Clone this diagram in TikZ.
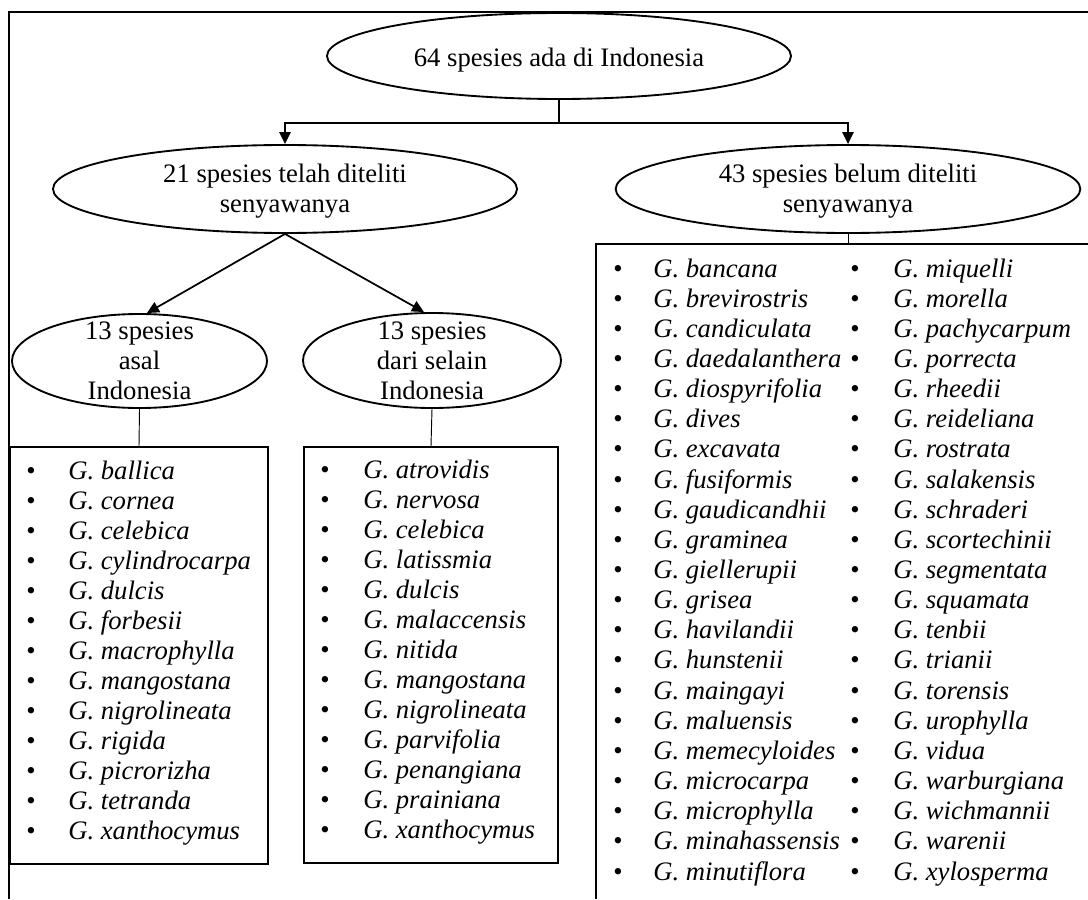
\documentclass[tikz,border=0pt]{standalone}
\usepackage{fontspec}
\setmainfont{Liberation Serif}
\usetikzlibrary{arrows.meta,shapes.geometric}
\begin{document}
\begin{tikzpicture}[x=0.75pt,y=-0.75pt,
  oval/.style={ellipse, draw, line width=1.4pt, inner sep=0pt},
  lbl/.style={align=center, font=\fontsize{20}{22.5}\selectfont, inner sep=0pt},
  listbox/.style={draw, line width=1.6pt, inner sep=0pt},
  item/.style={anchor=base west, inner sep=0pt, font=\fontsize{20}{22.5}\selectfont\itshape},
  dot/.style={anchor=base, inner sep=0pt, font=\fontsize{20}{22.5}\selectfont},
  arr/.style={line width=1.3pt, -{Triangle[length=9pt,width=8.5pt]}},
  stem/.style={line width=0.7pt},
  frame/.style={line width=1pt}]

\fill[white] (0,0) rectangle (1088,899);
\useasboundingbox (0,0) rectangle (1088,899);

% outer frame (top and left sides)
\draw[frame] (1088,12) -| (9,899);

% ellipses
\node[oval, minimum width=348pt, minimum height=64.5pt] (all) at (559,56) {};
\node[lbl] (allT) at (559,60) {64 spesies ada di Indonesia};

\node[oval, minimum width=348pt, minimum height=66pt] (done) at (285,189) {};
\node[lbl] (doneT) at (285,191) {21 spesies telah diteliti\\senyawanya};

\node[oval, minimum width=348.5pt, minimum height=66pt] (todo) at (848,189) {};
\node[lbl] (todoT) at (848,191) {43 spesies belum diteliti\\senyawanya};

\node[oval, minimum width=191.25pt, minimum height=70.5pt] (native) at (139.5,361) {};
\node[lbl] (nativeT) at (139.5,361) {13 spesies\\asal\\Indonesia};

\node[oval, minimum width=193.5pt, minimum height=71.25pt] (foreign) at (432,360.5) {};
\node[lbl] (foreignT) at (432,361) {13 spesies\\dari selain\\Indonesia};

% list boxes
\node[listbox, minimum width=193.5pt, minimum height=312.75pt, anchor=north] (boxA) at (139,446) {};
\node[listbox, minimum width=190.5pt, minimum height=312pt, anchor=north] (boxB) at (431,446) {};
\draw[line width=1.6pt] (1088,244) -| (596,899);
\coordinate (boxC) at (848,244);

% connectors
\coordinate (split) at (559,123);
\draw[line width=1.3pt] (all.south) -- (split);
\draw[arr] (split) -| (done.north);
\draw[arr] (split) -| (todo.north);
\draw[arr] (done.south) -- ([xshift=5.6pt]native.north);
\draw[arr] (done.south) -- ([xshift=-6pt]foreign.north);
\draw[stem] (native.south) -- (boxA.north);
\draw[stem] (foreign.south) -- (boxB.north);
\draw[stem] (todo.south) -- (boxC);

% species lists
\foreach \n [count=\i] in {G. ballica, G. cornea, G. celebica, G. cylindrocarpa,
  G. dulcis, G. forbesii, G. macrophylla, G. mangostana, G. nigrolineata,
  G. rigida, G. picrorizha, G. tetranda, G. xanthocymus} {
  \node[dot] (ad\i) at (31,{479+30*(\i-1)}) {•};
  \node[item] (a\i) at (68,{479+30*(\i-1)}) {\n};
}
\foreach \n [count=\i] in {G. atrovidis, G. nervosa, G. celebica, G. latissmia,
  G. dulcis, G. malaccensis, G. nitida, G. mangostana, G. nigrolineata,
  G. parvifolia, G. penangiana, G. prainiana, G. xanthocymus} {
  \node[dot] (bd\i) at (325,{478+30*(\i-1)}) {•};
  \node[item] (b\i) at (363,{478+30*(\i-1)}) {\n};
}
\foreach \n [count=\i] in {G. bancana, G. brevirostris, G. candiculata,
  G. daedalanthera, G. diospyrifolia, G. dives, G. excavata, G. fusiformis,
  G. gaudicandhii, G. graminea, G. giellerupii, G. grisea, G. havilandii,
  G. hunstenii, G. maingayi, G. maluensis, G. memecyloides, G. microcarpa,
  G. microphylla, G. minahassensis, G. minutiflora} {
  \node[dot] (cd\i) at (618,{277+30.15*(\i-1)}) {•};
  \node[item] (c\i) at (653,{277+30.15*(\i-1)}) {\n};
}
\foreach \n [count=\i] in {G. miquelli, G. morella, G. pachycarpum,
  G. porrecta, G. rheedii, G. reideliana, G. rostrata, G. salakensis,
  G. schraderi, G. scortechinii, G. segmentata, G. squamata, G. tenbii,
  G. trianii, G. torensis, G. urophylla, G. vidua, G. warburgiana,
  G. wichmannii, G. warenii, G. xylosperma} {
  \node[dot] (dd\i) at (855,{277+30.15*(\i-1)}) {•};
  \node[item] (d\i) at (893,{277+30.15*(\i-1)}) {\n};
}
\end{tikzpicture}
\end{document}
